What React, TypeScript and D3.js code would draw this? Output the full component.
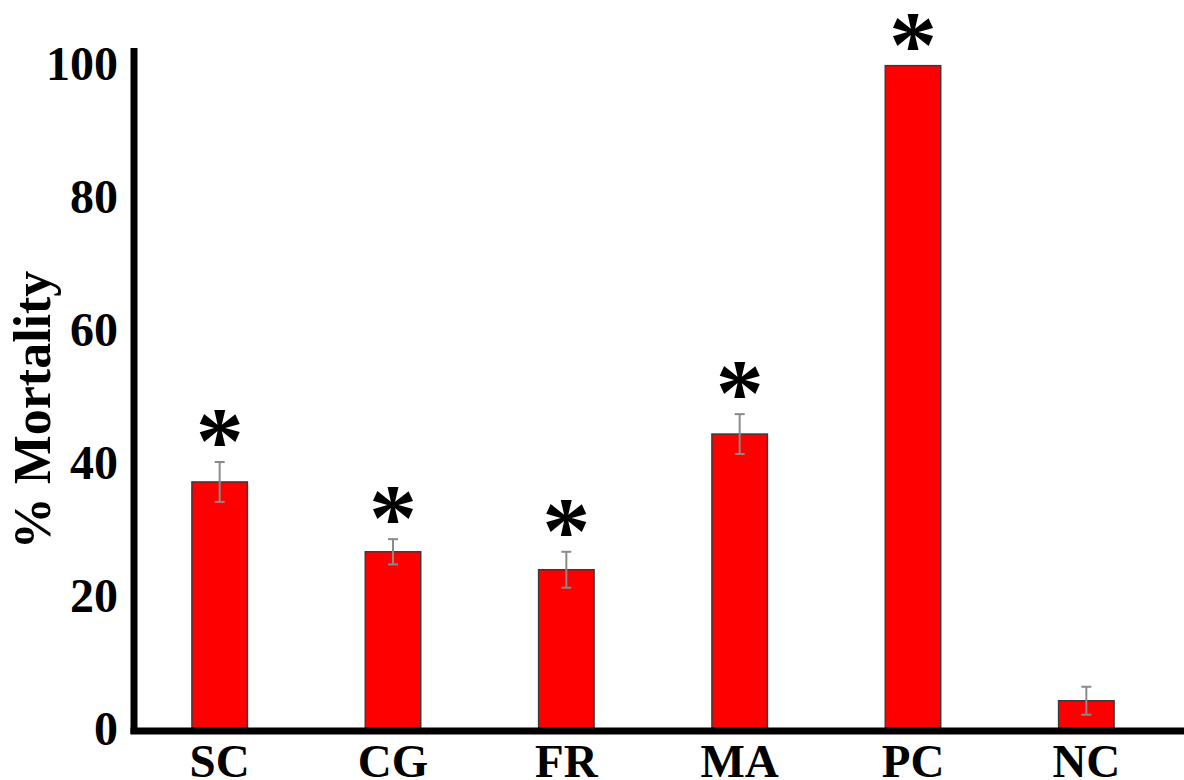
import React from "react";
import * as d3 from "d3";

// Treatment groups, mean % mortality and standard error
const groups = ["SC", "CG", "FR", "MA", "PC", "NC"];
const mortality = [37.0, 26.5, 23.8, 44.2, 99.6, 4.1];
const stdErr = [3.0, 1.9, 2.7, 3.0, 0, 2.1];
const significant = [true, true, true, true, true, false];
const yTicks = [0, 20, 40, 60, 80, 100];

const W = 1184;
const H = 780;
const FONT = "'Liberation Serif', 'Times New Roman', serif";

export default function App() {
  const x = d3
    .scaleBand<string>()
    .domain(groups)
    .range([133, 1173])
    .paddingInner(0.68)
    .paddingOuter(0.34);
  const y = d3.scaleLinear().domain([0, 100]).range([728, 63]);
  const bw = x.bandwidth();
  const capHalf = 5;

  return (
    <svg
      width={W}
      height={H}
      style={{ position: "absolute", left: 0, top: 0, background: "#fff" }}
      fontFamily={FONT}
      fontWeight="bold"
    >
      {/* bars */}
      {groups.map((g, i) => (
        <rect
          key={g}
          x={x(g)}
          y={y(mortality[i])}
          width={bw}
          height={y(0) - y(mortality[i])}
          fill="#ff0000"
          stroke="#3a3a3a"
          strokeWidth={1.5}
        />
      ))}

      {/* error bars */}
      {groups.map((g, i) => {
        if (!stdErr[i]) return null;
        const cx = (x(g) as number) + bw / 2;
        const y1 = y(mortality[i] + stdErr[i]);
        const y2 = y(mortality[i] - stdErr[i]);
        return (
          <g key={g} stroke="#8a8a8a" strokeWidth={2}>
            <line x1={cx} x2={cx} y1={y1} y2={y2} />
            <line x1={cx - capHalf} x2={cx + capHalf} y1={y1} y2={y1} />
            <line x1={cx - capHalf} x2={cx + capHalf} y1={y2} y2={y2} />
          </g>
        );
      })}

      {/* significance markers */}
      {groups.map((g, i) =>
        significant[i] ? (
          <text
            key={g}
            x={(x(g) as number) + bw / 2}
            y={y(mortality[i] + stdErr[i]) + 11}
            textAnchor="middle"
            fontSize={96}
            fill="#000"
          >
            *
          </text>
        ) : null
      )}

      {/* axes */}
      <line x1={134} x2={134} y1={48} y2={734} stroke="#000" strokeWidth={7} />
      <line x1={130.5} x2={W} y1={731} y2={731} stroke="#000" strokeWidth={7} />

      {/* y tick labels */}
      {yTicks.map((t) => (
        <text
          key={t}
          x={118}
          y={y(t)}
          dy="0.35em"
          textAnchor="end"
          fontSize={48}
          fill="#000"
        >
          {t}
        </text>
      ))}

      {/* x category labels */}
      {groups.map((g) => (
        <text
          key={g}
          x={(x(g) as number) + bw / 2}
          y={777}
          textAnchor="middle"
          fontSize={47}
          fill="#000"
        >
          {g}
        </text>
      ))}

      {/* y axis title */}
      <text
        transform={`translate(50, 410) rotate(-90)`}
        textAnchor="middle"
        fontSize={52}
        fill="#000"
      >
        % Mortality
      </text>
    </svg>
  );
}
